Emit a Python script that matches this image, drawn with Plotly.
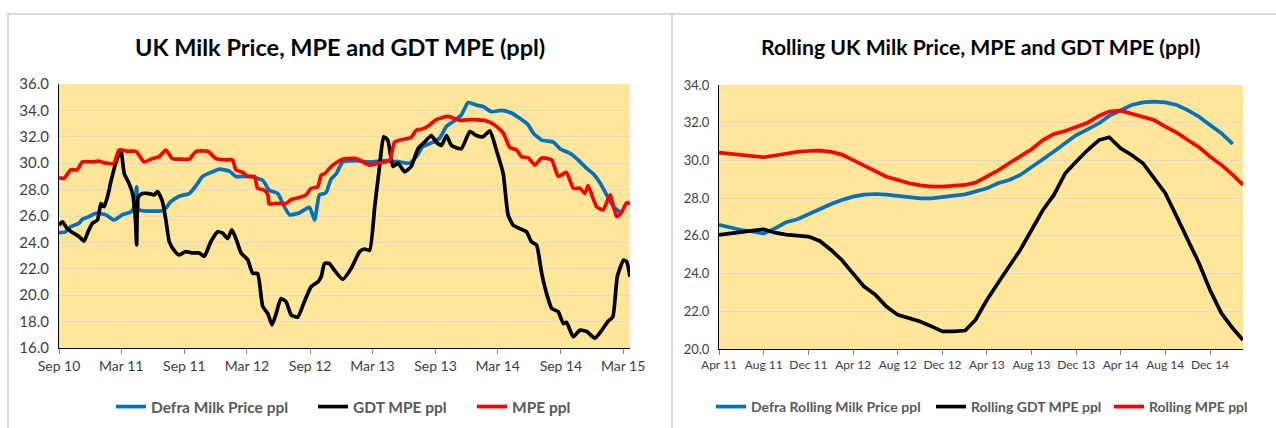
import plotly.graph_objects as go
import pandas as pd

W, H = 1276, 428

# ---------------- Left chart data ----------------
defra_dates = ["2010-09-01","2010-09-20","2010-10-05","2010-10-29","2010-11-08","2010-11-27","2010-12-17","2011-01-15","2011-02-08","2011-03-05",
               "2011-03-29","2011-04-08","2011-04-15","2011-04-20","2011-05-02","2011-06-29","2011-07-09","2011-07-24","2011-08-17","2011-09-15",
               "2011-10-05","2011-10-24","2011-11-22","2011-12-12","2012-01-10","2012-01-29","2012-03-08","2012-04-16","2012-05-05","2012-05-30",
               "2012-06-13","2012-07-03","2012-08-01","2012-08-30","2012-09-14","2012-09-28","2012-10-13","2012-10-18","2012-11-01","2012-11-16",
               "2012-12-05","2013-01-13","2013-02-21","2013-04-11","2013-05-19","2013-06-18","2013-07-07","2013-07-26","2013-08-25","2013-09-13",
               "2013-10-03","2013-10-22","2013-11-15","2013-12-05","2013-12-29","2014-01-17","2014-02-11","2014-03-12","2014-04-10","2014-05-04",
               "2014-05-29","2014-06-12","2014-07-07","2014-08-10","2014-08-29","2014-09-27","2014-10-21","2014-11-15","2014-12-04","2014-12-24",
               "2015-01-12","2015-02-01","2015-02-20"]
defra_ppl = [24.74,24.8,25.2,25.45,25.75,25.95,26.2,26.1,25.7,26.1,
             26.3,26.7,28.2,26.5,26.4,26.4,26.6,27.1,27.5,27.7,
             28.3,29.0,29.35,29.55,29.4,29.0,29.0,28.7,27.95,27.7,
             26.95,26.1,26.25,26.65,25.7,27.6,27.7,27.8,28.8,29.2,
             30.1,30.2,30.1,30.2,30.1,30.0,30.5,31.25,31.6,31.9,
             32.8,33.15,33.65,34.6,34.4,34.3,33.9,34.0,33.8,33.4,
             32.9,32.3,31.75,31.6,31.1,30.75,30.25,29.6,29.2,28.5,
             27.6,26.7,26.3]

gdt_dates = ["2010-09-01","2010-09-11","2010-09-25","2010-10-10","2010-10-29","2010-11-13","2010-11-23","2010-12-07","2010-12-22","2011-01-01",
             "2011-01-10","2011-01-20","2011-01-30","2011-02-13","2011-02-28","2011-03-10","2011-03-24","2011-04-03","2011-04-11","2011-04-15",
             "2011-04-20","2011-05-02","2011-05-21","2011-06-05","2011-06-15","2011-06-29","2011-07-09","2011-07-19","2011-08-02","2011-08-17",
             "2011-09-05","2011-09-25","2011-10-14","2011-10-29","2011-11-17","2011-12-07","2011-12-21","2012-01-05","2012-01-17","2012-01-29",
             "2012-02-13","2012-03-03","2012-03-18","2012-04-01","2012-04-16","2012-05-01","2012-05-13","2012-05-25","2012-06-08","2012-06-23",
             "2012-07-08","2012-07-27","2012-08-15","2012-09-04","2012-09-23","2012-10-03","2012-10-13","2012-10-27","2012-11-06","2012-12-05",
             "2012-12-30","2013-01-23","2013-02-06","2013-02-21","2013-03-08","2013-03-22","2013-04-03","2013-04-15","2013-04-30","2013-05-15",
             "2013-06-03","2013-06-22","2013-07-12","2013-07-31","2013-08-20","2013-09-03","2013-09-18","2013-10-03","2013-10-17","2013-11-15",
             "2013-12-10","2013-12-29","2014-01-17","2014-02-06","2014-02-25","2014-03-17","2014-03-31","2014-04-15","2014-05-04","2014-05-24",
             "2014-06-07","2014-06-22","2014-07-07","2014-07-21","2014-08-05","2014-08-24","2014-09-08","2014-09-17","2014-10-07","2014-10-26",
             "2014-11-15","2014-12-09","2014-12-29","2015-01-17","2015-01-30","2015-02-12","2015-03-02","2015-03-11","2015-03-21"]
gdt_ppl = [25.3,25.55,25.05,24.75,24.45,24.1,24.7,25.45,25.7,26.95,
           26.7,27.45,28.6,30.0,31.0,29.2,28.45,27.7,25.95,23.8,
           27.45,27.7,27.7,27.6,27.85,27.1,25.7,24.05,23.4,23.05,
           23.3,23.2,23.2,22.95,24.05,24.8,24.7,24.3,24.95,24.3,
           23.2,22.7,21.65,21.65,19.15,18.6,17.75,18.6,19.75,19.5,
           18.5,18.35,19.5,20.65,21.0,21.4,22.4,22.4,22.05,21.2,
           22.05,23.3,23.5,23.4,26.7,29.75,32.0,31.75,29.75,30.0,
           29.35,29.75,31.1,31.6,32.1,31.6,31.35,32.1,31.35,31.1,
           32.4,32.1,32.0,32.45,31.0,29.2,26.1,25.3,25.05,24.8,
           24.05,23.8,21.65,20.15,19.0,18.75,17.85,17.95,16.85,17.35,
           17.25,16.75,17.35,18.05,18.35,21.4,22.65,22.55,21.4]

mpe_dates = ["2010-09-01","2010-09-16","2010-10-05","2010-10-24","2010-11-08","2010-12-07","2010-12-27","2011-01-15","2011-02-08","2011-02-23",
             "2011-03-19","2011-04-13","2011-05-07","2011-05-31","2011-06-20","2011-07-09","2011-07-28","2011-08-27","2011-09-15","2011-10-05",
             "2011-11-08","2011-12-02","2011-12-31","2012-01-19","2012-01-29","2012-02-18","2012-03-03","2012-03-23","2012-04-01","2012-04-21",
             "2012-05-01","2012-05-05","2012-05-25","2012-06-23","2012-07-08","2012-08-01","2012-08-20","2012-09-04","2012-09-23","2012-10-03",
             "2012-10-13","2012-10-27","2012-11-06","2012-12-05","2013-01-13","2013-02-21","2013-03-17","2013-04-20","2013-05-05","2013-05-29",
             "2013-06-22","2013-07-07","2013-07-26","2013-08-15","2013-09-03","2013-10-07","2013-11-10","2013-12-19","2014-01-27","2014-02-20",
             "2014-03-17","2014-04-05","2014-04-25","2014-05-09","2014-05-29","2014-06-17","2014-07-07","2014-08-05","2014-08-24","2014-09-17",
             "2014-10-07","2014-10-26","2014-11-10","2014-11-19","2014-12-14","2015-01-02","2015-01-22","2015-02-10","2015-02-25","2015-03-11",
             "2015-03-21"]
mpe_ppl = [28.9,28.85,29.5,29.5,30.1,30.1,30.15,30.0,30.0,31.0,
           30.9,30.9,30.1,30.35,30.5,31.0,30.35,30.3,30.3,30.9,
           30.9,30.35,30.25,30.25,29.5,29.3,29.0,29.0,28.1,27.95,
           27.6,26.9,26.95,26.95,27.25,27.4,27.6,28.1,28.2,29.1,
           29.2,29.6,29.85,30.3,30.35,29.85,30.0,30.2,31.6,31.8,
           31.95,32.5,32.6,32.9,33.3,33.55,33.25,33.3,33.2,32.9,
           32.3,31.2,31.0,30.5,30.4,29.85,30.4,30.25,29.0,29.3,
           28.1,28.1,27.7,28.3,26.7,26.45,27.6,25.95,26.3,27.0,
           26.95]

left_tick_dates = ["2010-09-01","2011-03-01","2011-09-01","2012-03-01","2012-09-01",
                   "2013-03-01","2013-09-01","2014-03-01","2014-09-01","2015-03-01"]
left_tick_labels = ["Sep 10","Mar 11","Sep 11","Mar 12","Sep 12",
                    "Mar 13","Sep 13","Mar 14","Sep 14","Mar 15"]

# ---------------- Right chart data (monthly, Apr 2011 - Mar 2015) ----------------
rolling_months = pd.date_range("2011-04-01", "2015-03-01", freq="MS")
rolling_defra = [26.58,26.44,26.31,26.23,26.12,26.4,26.72,26.88,27.16,27.41,
                 27.69,27.9,28.08,28.19,28.22,28.19,28.12,28.01,27.99,27.99,
                 28.08,28.13,28.2,28.35,28.52,28.79,28.96,29.23,29.62,30.06,
                 30.47,30.91,31.35,31.65,31.97,32.36,32.67,32.94,33.08,33.12,
                 33.08,32.94,32.67,32.32,31.88,31.44,30.87,None]
rolling_gdt = [26.05,26.14,26.23,26.28,26.35,26.17,26.07,26.01,25.96,25.73,
               25.25,24.72,24.02,23.31,22.87,22.25,21.81,21.63,21.46,21.2,
               20.93,20.93,20.98,21.54,22.6,23.49,24.37,25.25,26.31,27.37,
               28.17,29.32,29.94,30.55,31.08,31.23,30.64,30.29,29.85,29.05,
               28.26,27.02,25.78,24.55,23.13,21.9,21.1,20.48]
rolling_mpe = [30.41,30.34,30.27,30.22,30.17,30.26,30.36,30.45,30.5,30.52,
               30.45,30.31,30.02,29.74,29.4,29.14,28.96,28.79,28.68,28.61,
               28.61,28.65,28.7,28.82,29.14,29.46,29.85,30.2,30.59,31.08,
               31.4,31.56,31.79,32.0,32.36,32.59,32.64,32.46,32.29,32.14,
               31.79,31.47,31.08,30.7,30.2,29.76,29.23,28.7]

right_tick_dates = pd.date_range("2011-04-01", "2014-12-01", freq="4MS")
right_tick_labels = ["Apr 11","Aug 11","Dec 11","Apr 12","Aug 12","Dec 12",
                     "Apr 13","Aug 13","Dec 13","Apr 14","Aug 14","Dec 14"]

BLUE, BLACK, RED = "#0070C0", "#000000", "#FF0000"
FONT = "Lato, 'Open Sans', sans-serif"
LW = 3.7

def px_x(p):
    return p / W

def px_y(p):
    return 1 - p / H

fig = go.Figure()
# (name, x, y, colour, legend id, legend line centre px, legend font size)
left_series = [("Defra Milk Price ppl", defra_dates, defra_ppl, BLUE, "legend", 131, 15.5),
               ("GDT MPE ppl", gdt_dates, gdt_ppl, BLACK, "legend2", 333, 15.5),
               ("MPE ppl", mpe_dates, mpe_ppl, RED, "legend3", 492, 15.5)]
right_series = [("Defra Rolling Milk Price ppl", rolling_months, rolling_defra, BLUE, "legend4", 731, 14),
                ("Rolling GDT MPE ppl", rolling_months, rolling_gdt, BLACK, "legend5", 951, 14),
                ("Rolling MPE ppl", rolling_months, rolling_mpe, RED, "legend6", 1129, 14)]

legend_layouts = {}
for i, (name, xs, ys, col, lg, cx, fs) in enumerate(left_series + right_series):
    left = i < 3
    fig.add_trace(go.Scatter(x=xs, y=ys, name=name, mode="lines",
                             line=dict(color=col, width=LW,
                                       shape="spline" if left else "linear", smoothing=0.5),
                             xaxis="x" if left else "x2", yaxis="y" if left else "y2",
                             legend=lg))
    legend_layouts[lg] = dict(orientation="h", x=px_x(cx - 20), y=px_y(407),
                              xanchor="left", yanchor="middle",
                              font=dict(family=FONT, size=fs, color="#595959", weight="bold"),
                              bgcolor="rgba(0,0,0,0)", borderwidth=0)

def tickfont(size):
    return dict(family=FONT, size=size, color="#404040")

common_x = dict(type="date", ticks="outside", ticklen=5, tickcolor="#808080",
                showline=True, linecolor="#000000", linewidth=1, showgrid=False,
                zeroline=False, tickangle=0, automargin=False)
common_y = dict(dtick=2, tickformat=".1f", showgrid=True, gridcolor="#D9D9E3", gridwidth=1,
                showline=True, linecolor="#000000", linewidth=1, ticks="",
                zeroline=False, ticklabelstandoff=6, automargin=False)

fig.update_layout(
    width=W, height=H,
    margin=dict(l=0, r=0, t=0, b=0, autoexpand=False),
    paper_bgcolor="#FFFFFF",
    plot_bgcolor="#FFE699",
    xaxis=dict(domain=[px_x(59), px_x(630)], anchor="y",
               range=["2010-09-01", "2015-03-21"], tickfont=tickfont(14),
               tickvals=left_tick_dates, ticktext=left_tick_labels, **common_x),
    yaxis=dict(domain=[px_y(348), px_y(84)], anchor="x", range=[16, 36],
               tickfont=tickfont(15), **common_y),
    xaxis2=dict(domain=[px_x(719), px_x(1243)], anchor="y2",
                range=["2011-04-01", "2015-03-01"], tickfont=tickfont(12),
                tickvals=right_tick_dates, ticktext=right_tick_labels, **common_x),
    yaxis2=dict(domain=[px_y(349), px_y(85)], anchor="x2", range=[20, 34],
                tickfont=tickfont(13), **common_y),
    showlegend=True,
    **legend_layouts,
)

titles = [("UK Milk Price, MPE and GDT MPE (ppl)", 340, 23.5),
          ("Rolling UK Milk Price, MPE and GDT MPE (ppl)", 980, 21.2)]
for text, cx, fs in titles:
    fig.add_annotation(text=text, x=px_x(cx), y=px_y(47), xref="paper", yref="paper",
                       xanchor="center", yanchor="middle", showarrow=False,
                       font=dict(family=FONT, size=fs, color="#000000", weight="bold"))

# chart-area borders
border = dict(color="#D9D9D9", width=2)
fig.add_shape(type="rect", xref="paper", yref="paper",
              x0=px_x(8), x1=px_x(672), y0=-0.1, y1=px_y(14), line=border, layer="below")
fig.add_shape(type="rect", xref="paper", yref="paper",
              x0=px_x(672), x1=1.1, y0=-0.1, y1=px_y(14), line=border, layer="below")

fig.write_html("out.html", config={"displayModeBar": False},
               post_script="document.body.style.margin='0';document.body.style.overflow='hidden';")
